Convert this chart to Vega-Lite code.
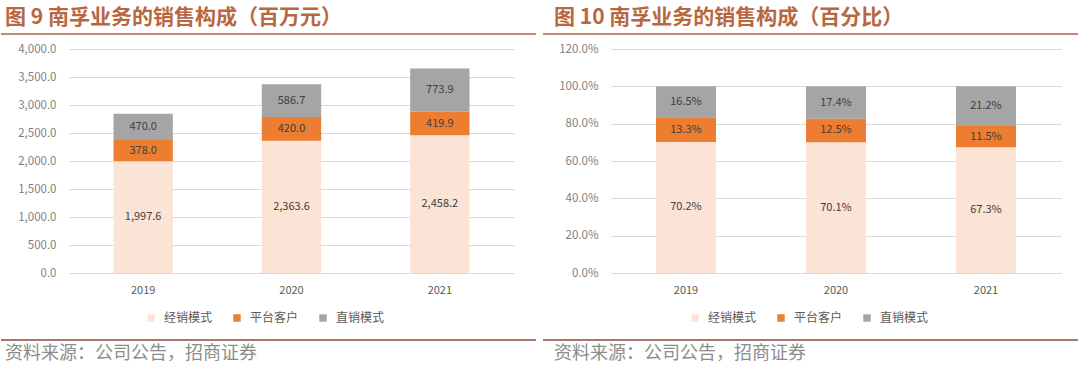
{
  "$schema": "https://vega.github.io/schema/vega-lite/v6.json",
  "padding": {"left": 0, "top": 7, "right": 0, "bottom": 0},
  "background": "white",
  "config": {
    "font": "Noto Sans CJK SC",
    "view": {"stroke": null},
    "axis": {"labelFont": "Noto Sans CJK SC", "labelColor": "#595959", "labelFontSize": 11, "domain": false, "ticks": false, "gridColor": "#D9D9D9", "gridWidth": 1, "labelOverlap": false},
    "legend": {"labelFont": "Noto Sans CJK SC", "labelColor": "#595959", "labelFontSize": 12, "symbolType": "square", "symbolSize": 55, "symbolStrokeWidth": 0, "labelOffset": 7, "columnPadding": 18, "title": null}
  },
  "datasets": {
    "amt": [
      {"year": "2019", "type": "经销模式", "ord": 1, "value": 1997.6},
      {"year": "2019", "type": "平台客户", "ord": 2, "value": 378.0},
      {"year": "2019", "type": "直销模式", "ord": 3, "value": 470.0},
      {"year": "2020", "type": "经销模式", "ord": 1, "value": 2363.6},
      {"year": "2020", "type": "平台客户", "ord": 2, "value": 420.0},
      {"year": "2020", "type": "直销模式", "ord": 3, "value": 586.7},
      {"year": "2021", "type": "经销模式", "ord": 1, "value": 2458.2},
      {"year": "2021", "type": "平台客户", "ord": 2, "value": 419.9},
      {"year": "2021", "type": "直销模式", "ord": 3, "value": 773.9}
    ],
    "pct": [
      {"year": "2019", "type": "经销模式", "ord": 1, "value": 0.702},
      {"year": "2019", "type": "平台客户", "ord": 2, "value": 0.133},
      {"year": "2019", "type": "直销模式", "ord": 3, "value": 0.165},
      {"year": "2020", "type": "经销模式", "ord": 1, "value": 0.701},
      {"year": "2020", "type": "平台客户", "ord": 2, "value": 0.125},
      {"year": "2020", "type": "直销模式", "ord": 3, "value": 0.174},
      {"year": "2021", "type": "经销模式", "ord": 1, "value": 0.673},
      {"year": "2021", "type": "平台客户", "ord": 2, "value": 0.115},
      {"year": "2021", "type": "直销模式", "ord": 3, "value": 0.212}
    ],
    "one": [{"k": 0}]
  },
  "spacing": 7,
  "vconcat": [
    {
      "spacing": 5,
      "hconcat": [
        {
          "width": 467, "height": 2,
          "title": {"text": "图 9 南孚业务的销售构成（百万元）", "anchor": "start", "dx": 5, "offset": 5, "fontSize": 21, "fontWeight": "bold", "color": "#B8673F", "font": "Noto Sans CJK SC"},
          "data": {"name": "one"},
          "mark": {"type": "rule", "color": "#C08A70", "strokeWidth": 2},
          "encoding": {
            "x": {"datum": -68, "type": "quantitative", "scale": {"domain": [0, 467], "zero": false, "nice": false}, "axis": null},
            "x2": {"datum": 467},
            "y": {"datum": 0, "type": "quantitative", "axis": null}
          }
        },
        {
          "width": 535, "height": 2,
          "title": {"text": "图 10 南孚业务的销售构成（百分比）", "anchor": "start", "dx": 12, "offset": 5, "fontSize": 21, "fontWeight": "bold", "color": "#B8673F", "font": "Noto Sans CJK SC"},
          "data": {"name": "one"},
          "mark": {"type": "rule", "color": "#C08A70", "strokeWidth": 2},
          "encoding": {"y": {"datum": 0, "type": "quantitative", "axis": null}}
        }
      ]
    },
    {
      "spacing": 27,
      "resolve": {"scale": {"color": "independent"}, "legend": {"color": "independent"}},
      "hconcat": [
        {
          "width": 445, "height": 224,
          "data": {"name": "amt"},
          "encoding": {
            "x": {"field": "year", "type": "nominal", "scale": {"paddingInner": 0.6, "paddingOuter": 0.3}, "axis": {"title": null, "labelAngle": 0, "grid": false, "labelPadding": 11}}
          },
          "layer": [
            {
              "mark": {"type": "bar"},
              "encoding": {
                "y": {"field": "value", "type": "quantitative", "stack": "zero", "scale": {"domain": [0, 4000], "nice": false}, "axis": {"title": null, "values": [0, 500, 1000, 1500, 2000, 2500, 3000, 3500, 4000], "format": ",.1f", "labelOverlap": false, "labelPadding": 13, "minExtent": 68, "maxExtent": 68, "labelColor": "#7F7F7F", "labelFontSize": 11.5}},
                "color": {"field": "type", "type": "nominal", "scale": {"domain": ["经销模式", "平台客户", "直销模式"], "range": ["#FBE3D6", "#ED7D31", "#A5A5A5"]}, "legend": {"orient": "none", "direction": "horizontal", "legendX": 76, "legendY": 263}},
                "order": {"field": "ord", "type": "quantitative"}
              }
            },
            {
              "mark": {"type": "text", "color": "#404040", "fontSize": 11, "baseline": "middle"},
              "encoding": {
                "y": {"field": "value", "type": "quantitative", "stack": "zero", "bandPosition": 0.5, "scale": {"domain": [0, 4000], "nice": false}, "axis": {"title": null, "values": [0, 500, 1000, 1500, 2000, 2500, 3000, 3500, 4000], "format": ",.1f", "labelOverlap": false, "labelPadding": 13, "minExtent": 68, "maxExtent": 68, "labelColor": "#7F7F7F", "labelFontSize": 11.5}},
                "text": {"field": "value", "type": "quantitative", "format": ",.1f"},
                "detail": {"field": "type"},
                "order": {"field": "ord", "type": "quantitative"}
              }
            }
          ]
        },
        {
          "width": 450, "height": 224,
          "data": {"name": "pct"},
          "encoding": {
            "x": {"field": "year", "type": "nominal", "scale": {"paddingInner": 0.6, "paddingOuter": 0.3}, "axis": {"title": null, "labelAngle": 0, "grid": false, "labelPadding": 11}}
          },
          "layer": [
            {
              "mark": {"type": "bar"},
              "encoding": {
                "y": {"field": "value", "type": "quantitative", "stack": "zero", "scale": {"domain": [0, 1.2], "nice": false}, "axis": {"title": null, "values": [0, 0.2, 0.4, 0.6, 0.8, 1.0, 1.2], "format": ".1%", "labelOverlap": false, "labelPadding": 13, "minExtent": 70, "maxExtent": 70, "labelColor": "#7F7F7F", "labelFontSize": 11.5}},
                "color": {"field": "type", "type": "nominal", "scale": {"domain": ["经销模式", "平台客户", "直销模式"], "range": ["#FBE3D6", "#ED7D31", "#A5A5A5"]}, "legend": {"orient": "none", "direction": "horizontal", "legendX": 78, "legendY": 263}},
                "order": {"field": "ord", "type": "quantitative"}
              }
            },
            {
              "mark": {"type": "text", "color": "#404040", "fontSize": 11, "baseline": "middle"},
              "encoding": {
                "y": {"field": "value", "type": "quantitative", "stack": "zero", "bandPosition": 0.5, "scale": {"domain": [0, 1.2], "nice": false}, "axis": {"title": null, "values": [0, 0.2, 0.4, 0.6, 0.8, 1.0, 1.2], "format": ".1%", "labelOverlap": false, "labelPadding": 13, "minExtent": 70, "maxExtent": 70, "labelColor": "#7F7F7F", "labelFontSize": 11.5}},
                "text": {"field": "value", "type": "quantitative", "format": ".1%"},
                "detail": {"field": "type"},
                "order": {"field": "ord", "type": "quantitative"}
              }
            }
          ]
        }
      ]
    },
    {
      "spacing": 5,
      "hconcat": [
        {
          "width": 467, "height": 9,
          "title": {"text": "资料来源：公司公告，招商证券", "orient": "bottom", "anchor": "start", "dx": 5, "offset": 4, "fontSize": 18, "fontWeight": "normal", "color": "#8C8C8C", "font": "Noto Sans CJK SC"},
          "data": {"name": "one"},
          "mark": {"type": "rule", "color": "#A8766A", "strokeWidth": 2},
          "encoding": {
            "x": {"datum": -68, "type": "quantitative", "scale": {"domain": [0, 467], "zero": false, "nice": false}, "axis": null},
            "x2": {"datum": 467},
            "y": {"datum": 0, "type": "quantitative", "scale": {"domain": [0, 1]}, "axis": null}
          }
        },
        {
          "width": 535, "height": 9,
          "title": {"text": "资料来源：公司公告，招商证券", "orient": "bottom", "anchor": "start", "dx": 12, "offset": 4, "fontSize": 18, "fontWeight": "normal", "color": "#8C8C8C", "font": "Noto Sans CJK SC"},
          "data": {"name": "one"},
          "mark": {"type": "rule", "color": "#A8766A", "strokeWidth": 2},
          "encoding": {"y": {"datum": 0, "type": "quantitative", "scale": {"domain": [0, 1]}, "axis": null}}
        }
      ]
    }
  ]
}
